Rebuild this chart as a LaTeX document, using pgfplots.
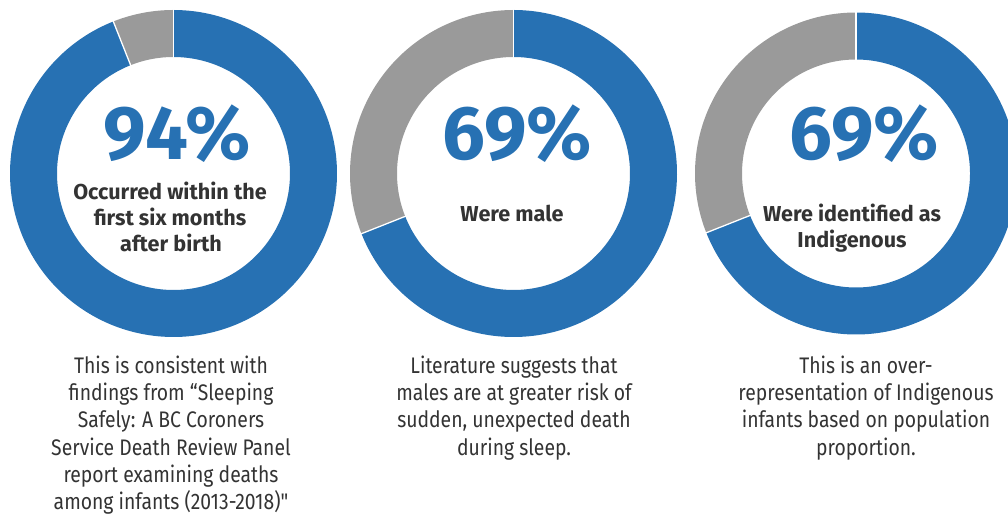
\documentclass[border=0pt]{standalone}
\usepackage{pgfplots}
\pgfplotsset{compat=1.18}
\usepackage{fontspec}
\setmainfont{Fira Sans}
\newfontfamily\condfont[FakeStretch=0.86]{Fira Sans}
\definecolor{dblue}{HTML}{2771B3}
\definecolor{dgray}{HTML}{9A9A9A}
\definecolor{txt}{HTML}{333333}
% donut: centre x, centre y, mid radius, ring width, percentage
\newcommand{\donut}[5]{%
  \addplot[dblue, line width=#4pt, domain=0:#5, samples=240, variable=\t]
    ({#1+#3*cos(90-3.6*\t)},{#2+#3*sin(90-3.6*\t)});
  \addplot[dgray, line width=#4pt, domain=#5:100, samples=120, variable=\t]
    ({#1+#3*cos(90-3.6*\t)},{#2+#3*sin(90-3.6*\t)});
  \addplot[white, line width=1.3pt, domain={#3-#4/2-1}:{#3+#4/2+1}, samples=2, variable=\t]
    ({#1+\t*cos(90)},{#2+\t*sin(90)});
  \addplot[white, line width=1.3pt, domain={#3-#4/2-1}:{#3+#4/2+1}, samples=2, variable=\t]
    ({#1+\t*cos(90-3.6*#5)},{#2+\t*sin(90-3.6*#5)});
}
\begin{document}
\begin{tikzpicture}
\begin{axis}[name=ax, x=1pt, y=1pt, xmin=0, xmax=1008, ymin=0, ymax=514,
  hide axis, clip=true]
\donut{173.5}{340.5}{140}{47}{94}
\donut{513.5}{340.5}{140}{47}{69}
\donut{856}{340.5}{137.5}{47}{69}
% big numbers
\node[anchor=base, text=dblue, font=\fontsize{76}{76}\selectfont\bfseries, inner sep=0] at (axis cs:177,354.7) {94\%};
\node[anchor=base, text=dblue, font=\fontsize{76}{76}\selectfont\bfseries, inner sep=0] at (axis cs:517,354.7) {69\%};
\node[anchor=base, text=dblue, font=\fontsize{76}{76}\selectfont\bfseries, inner sep=0] at (axis cs:864,354.7) {69\%};
% inner labels
\begin{scope}[every node/.style={anchor=base, text=txt, inner sep=0, font=\fontsize{21.6}{26}\selectfont\bfseries}]
\node at (axis cs:170,314.7) {Occurred within the};
\node at (axis cs:170,288.5) {first six months};
\node at (axis cs:171,262.5) {after birth};
\node at (axis cs:512,292.3) {Were male};
\node at (axis cs:852,292.3) {Were identified as};
\node at (axis cs:852,266) {Indigenous};
\end{scope}
% captions
\begin{scope}[every node/.style={anchor=base, text=txt, inner sep=0, font=\condfont\fontsize{22.5}{27}\selectfont}]
\node at (axis cs:171,140) {This is consistent with};
\node at (axis cs:171,113) {findings from “Sleeping};
\node at (axis cs:171,86) {Safely: A BC Coroners};
\node at (axis cs:171,59) {Service Death Review Panel};
\node at (axis cs:171,32) {report examining deaths};
\node at (axis cs:171,5) {among infants (2013-2018)"};
\node at (axis cs:514,140) {Literature suggests that};
\node at (axis cs:514,113) {males are at greater risk of};
\node at (axis cs:514,86) {sudden, unexpected death};
\node at (axis cs:514,59) {during sleep.};
\node at (axis cs:866,140) {This is an over-};
\node at (axis cs:866,113) {representation of Indigenous};
\node at (axis cs:866,86) {infants based on population};
\node at (axis cs:866,59) {proportion.};
\end{scope}
\end{axis}
\pgfresetboundingbox
\path[use as bounding box] (ax.south west) rectangle (ax.north east);
\end{tikzpicture}
\end{document}
